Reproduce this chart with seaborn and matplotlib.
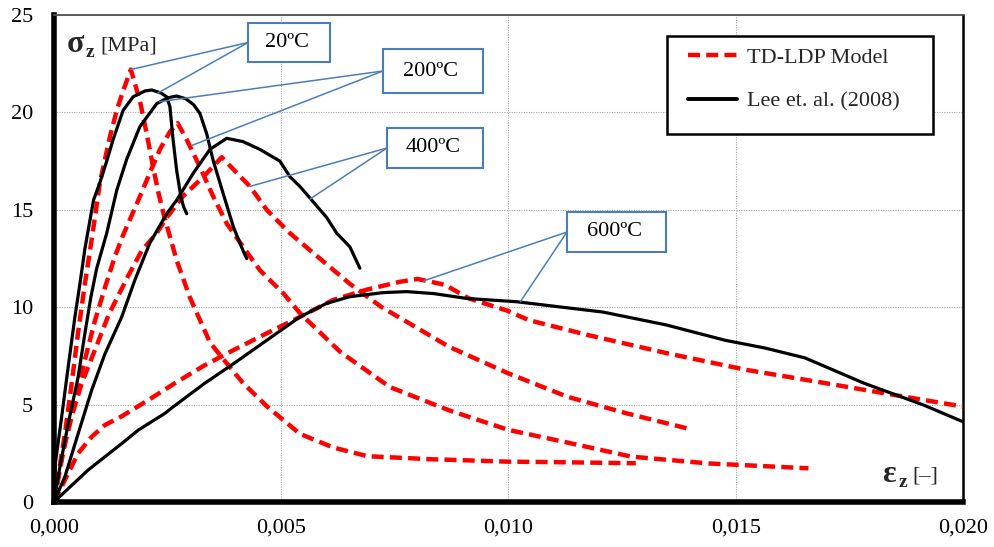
import numpy as np
import pandas as pd
import matplotlib
matplotlib.use("Agg")
import matplotlib.pyplot as plt
import seaborn as sns
from matplotlib.lines import Line2D
from matplotlib.patches import Rectangle

# ---------------- data (strain [-], stress [MPa]) ----------------
td20_strain = [0, 0.00009, 0.00024, 0.00039, 0.00053, 0.00068, 0.00085, 0.00101, 0.00123, 0.00138,
               0.00152, 0.00169, 0.00189, 0.00204, 0.00218, 0.00230, 0.00242, 0.00270, 0.00299,
               0.00320, 0.00343, 0.00365, 0.00416, 0.00469, 0.00541, 0.00614, 0.00690, 0.00825,
               0.01000, 0.01090, 0.01280]
td20_stress = [0, 1.3, 3.5, 6.1, 8.7, 11.2, 13.8, 16.4, 18.75, 20.1,
               21.1, 22.2, 20.6, 18.9, 17.2, 15.85, 14.7, 12.4, 10.5,
               9.4, 8.2, 7.55, 6.1, 4.9, 3.5, 2.8, 2.35, 2.2,
               2.07, 2.05, 1.99]

td200_strain = [0, 0.00010, 0.00024, 0.00046, 0.00068, 0.00090, 0.00112, 0.00134, 0.00152, 0.00182,
                0.00211, 0.00233, 0.00255, 0.00272, 0.00292, 0.00321, 0.00350, 0.00380, 0.00416,
                0.00453, 0.00505, 0.00541, 0.00630, 0.00739, 0.00870, 0.01000, 0.01130, 0.01270,
                0.01440, 0.01660]
td200_stress = [0, 1.3, 3.0, 5.2, 7.3, 9.3, 11.0, 12.6, 13.7, 15.3,
                16.9, 18.1, 19.0, 19.45, 18.6, 17.2, 15.7, 14.3, 13.1,
                11.9, 10.7, 9.7, 7.7, 5.9, 4.7, 3.7, 3.05, 2.33,
                1.98, 1.73]

td400_strain = [0, 0.00017, 0.00039, 0.00061, 0.00090, 0.00120, 0.00163, 0.00193, 0.00226, 0.00248,
                0.00284, 0.00329, 0.00369, 0.00402, 0.00431, 0.00468, 0.00519, 0.00600, 0.00651,
                0.00721, 0.00782, 0.00869, 0.01000, 0.01130, 0.01260, 0.01393]
td400_stress = [0, 2.3, 4.4, 6.1, 7.8, 9.6, 11.6, 12.9, 13.8, 14.6,
                15.7, 16.7, 17.7, 16.9, 16.2, 15.0, 13.8, 12.2, 11.2,
                10.0, 9.17, 7.97, 6.6, 5.4, 4.55, 3.78]

td600_strain = [0, 0.00024, 0.00053, 0.00083, 0.00112, 0.00149, 0.00208, 0.00266, 0.00330, 0.00395,
                0.00468, 0.00541, 0.00614, 0.00688, 0.00760, 0.00800, 0.00860, 0.00913, 0.01000,
                0.01044, 0.01175, 0.01350, 0.01524, 0.01700, 0.01870, 0.02000]
td600_stress = [0, 1.13, 2.5, 3.35, 3.95, 4.4, 5.24, 6.1, 7.0, 7.8,
                8.66, 9.5, 10.37, 10.9, 11.3, 11.45, 11.15, 10.45, 9.8,
                9.34, 8.57, 7.63, 6.78, 6.09, 5.41, 4.9]

lee20_strain = [0, 0.00003, 0.00017, 0.00031, 0.00046, 0.00057, 0.00068, 0.00087, 0.00101, 0.00116,
                0.00130, 0.00152, 0.00174, 0.00200, 0.00215, 0.00235, 0.00248, 0.00255, 0.00262,
                0.00270, 0.00279, 0.00285, 0.00292]
lee20_stress = [0, 2.0, 4.4, 6.9, 9.5, 11.2, 13.0, 15.5, 16.4, 17.5,
                18.6, 20.1, 20.8, 21.1, 21.15, 21.0, 20.8, 20.3, 18.6,
                17.0, 15.7, 15.16, 14.8]

lee200_strain = [0, 0.00013, 0.00031, 0.00053, 0.00068, 0.00081, 0.00094, 0.00105, 0.00116, 0.00138,
                 0.00160, 0.00189, 0.00226, 0.00250, 0.00270, 0.00290, 0.00307, 0.00321, 0.00336,
                 0.00350, 0.00372, 0.00395, 0.00416, 0.00424]
lee200_stress = [0, 1.8, 4.0, 6.4, 8.66, 10.5, 12.0, 12.9, 13.8, 16.0,
                 17.6, 19.27, 20.45, 20.75, 20.84, 20.7, 20.4, 19.95, 18.9,
                 17.55, 15.85, 14.1, 12.9, 12.5]

lee400_strain = [0, 0.00024, 0.00053, 0.00083, 0.00112, 0.00149, 0.00178, 0.00211, 0.00248, 0.00270,
                 0.00307, 0.00343, 0.00380, 0.00416, 0.00453, 0.00497, 0.00519, 0.00541, 0.00556,
                 0.00600, 0.00622, 0.00651, 0.00673]
lee400_stress = [0, 1.3, 3.5, 5.75, 7.6, 9.5, 11.4, 13.3, 14.8, 15.5,
                 16.9, 18.1, 18.67, 18.5, 18.1, 17.5, 16.7, 16.2, 15.8,
                 14.6, 13.8, 13.1, 12.0]

lee600_strain = [0, 0.00075, 0.00149, 0.00186, 0.00244, 0.00263, 0.00332, 0.00395, 0.00468, 0.00541,
                 0.00600, 0.00651, 0.00725, 0.00776, 0.00835, 0.00908, 0.01018, 0.01208, 0.01347,
                 0.01477, 0.01565, 0.01652, 0.01782, 0.01913, 0.02000]
lee600_stress = [0, 1.64, 3.0, 3.7, 4.55, 4.9, 6.1, 7.1, 8.3, 9.5,
                 10.2, 10.54, 10.75, 10.8, 10.7, 10.45, 10.28, 9.75, 9.09,
                 8.3, 7.9, 7.4, 6.1, 4.98, 4.12]

temperatures = ["20ºC", "200ºC", "400ºC", "600ºC"]
series_names = ["TD-LDP Model", "Lee et. al. (2008)"]
x_ticks = [0.0, 0.005, 0.010, 0.015, 0.020]
x_tick_labels = ["0,000", "0,005", "0,010", "0,015", "0,020"]
y_ticks = [0, 5, 10, 15, 20, 25]
y_tick_labels = ["0", "5", "10", "15", "20", "25"]

# callout anchor points on the curves (model, experiment)
callout_points = {
    "20ºC": [(0.00169, 22.2), (0.00229, 21.0)],
    "200ºC": [(0.00232, 20.55), (0.00303, 18.3)],
    "400ºC": [(0.00431, 16.2), (0.00563, 15.55)],
    "600ºC": [(0.00813, 11.35), (0.01026, 10.28)],
}

# ---------------- style ----------------
sns.set_style("white")
plt.rcParams["font.family"] = ["Liberation Serif", "DejaVu Serif"]

W, H = 995, 547
AX_L, AX_R, AX_T, AX_B = 54, 963, 15, 502
fig = plt.figure(figsize=(W / 100, H / 100), dpi=100)
ax = fig.add_axes([AX_L / W, 1 - AX_B / H, (AX_R - AX_L) / W, (AX_B - AX_T) / H])


def axfrac(px, py):
    return ((px - AX_L) / (AX_R - AX_L), (AX_B - py) / (AX_B - AX_T))


model_curves = [(td20_strain, td20_stress), (td200_strain, td200_stress),
                (td400_strain, td400_stress), (td600_strain, td600_stress)]
lee_curves = [(lee20_strain, lee20_stress), (lee200_strain, lee200_stress),
              (lee400_strain, lee400_stress), (lee600_strain, lee600_stress)]

df_model = pd.concat([pd.DataFrame({"strain": x, "stress": y, "temp": t})
                      for t, (x, y) in zip(temperatures, model_curves)])
df_lee = pd.concat([pd.DataFrame({"strain": x, "stress": y, "temp": t})
                    for t, (x, y) in zip(temperatures, lee_curves)])

RED = "#FF0000"
DASH = (2.7, 1.4)
sns.lineplot(data=df_model, x="strain", y="stress", units="temp", estimator=None,
             sort=False, color=RED, linewidth=3.2, ax=ax, legend=False, zorder=3)
n_model = len(ax.lines)
for ln in ax.lines[:n_model]:
    ln.set_dashes(DASH)
sns.lineplot(data=df_lee, x="strain", y="stress", units="temp", estimator=None,
             sort=False, color="black", linewidth=2.3, ax=ax, legend=False, zorder=4)

ax.set_xlim(0, 0.020)
ax.set_ylim(0, 25)
ax.set_xticks(x_ticks)
ax.set_xticklabels(x_tick_labels)
ax.set_yticks(y_ticks)
ax.set_yticklabels(y_tick_labels)
ax.set_xlabel("")
ax.set_ylabel("")
ax.grid(True, linestyle=(0, (1, 1.2)), color="#A6A6A6", linewidth=0.8)
ax.set_axisbelow(True)

for s in ["left", "bottom"]:
    ax.spines[s].set_linewidth(4)
    ax.spines[s].set_color("black")
ax.spines["top"].set_linewidth(1.3)
ax.spines["top"].set_color("#505050")
ax.spines["right"].set_linewidth(1.8)
ax.spines["right"].set_color("black")
ax.tick_params(axis="both", direction="out", length=5, width=3, color="black",
               labelsize=16, labelcolor="black")
ax.tick_params(axis="y", pad=10)
ax.tick_params(axis="x", pad=7)
for lab in ax.get_xticklabels() + ax.get_yticklabels():
    lab.set_family("Liberation Serif")

# axis titles inside the plot
fig.text(67 / W, 1 - 52 / H, "σ", fontsize=23, fontweight="bold", va="baseline", ha="left")
fig.text(86 / W, 1 - 57 / H, "z", fontsize=14, fontweight="bold", va="baseline", ha="left")
fig.text(100 / W, 1 - 51 / H, "[MPa]", fontsize=16, va="baseline", ha="left")
fig.text(882 / W, 1 - 482 / H, "ε", fontsize=23, fontweight="bold", va="baseline", ha="left")
fig.text(899 / W, 1 - 487 / H, "z", fontsize=14, fontweight="bold", va="baseline", ha="left")
fig.text(912 / W, 1 - 481 / H, "[–]", fontsize=16, va="baseline", ha="left")

# callout boxes (pixel layout of the reference)
BLUE = "#4A7EBB"
boxes = {
    "20ºC": (248, 23, 330, 62),
    "200ºC": (383, 49, 483, 93),
    "400ºC": (387, 128, 483, 168),
    "600ºC": (567, 212, 666, 252),
}
for t in temperatures:
    x0, y0, x1, y1 = boxes[t]
    fx0, fy1 = axfrac(x0, y1)
    fx1, fy0 = axfrac(x1, y0)
    ymid = (y0 + y1) / 2
    start = axfrac(x0, ymid)
    for pt in callout_points[t]:
        ax.annotate("", xy=pt, xycoords="data", xytext=start, textcoords="axes fraction",
                    arrowprops=dict(arrowstyle="-", color=BLUE, lw=1.1, shrinkA=0, shrinkB=0),
                    zorder=6, annotation_clip=False)
    ax.add_patch(Rectangle((fx0, fy1), fx1 - fx0, fy0 - fy1, transform=ax.transAxes,
                           facecolor="white", edgecolor=BLUE, lw=1.5, zorder=7, clip_on=False))
    cx, cy = axfrac((x0 + x1) / 2 - 2, ymid)
    ax.text(cx, cy, t, transform=ax.transAxes, ha="center", va="center", fontsize=16,
            zorder=8, color="black")

# legend
lx0, ly0, lx1, ly1 = 667, 36, 933, 134
fx0, fy1 = axfrac(lx0, ly1)
fx1, fy0 = axfrac(lx1, ly0)
ax.add_patch(Rectangle((fx0, fy1), fx1 - fx0, fy0 - fy1, transform=ax.transAxes,
                       facecolor="white", edgecolor="black", lw=1.8, zorder=7, clip_on=False))
handles = [Line2D([0], [0], color=RED, lw=3.2, dashes=DASH),
           Line2D([0], [0], color="black", lw=2.8)]
anchor = axfrac(688, 47)
leg = ax.legend(handles, series_names, loc="upper left", bbox_to_anchor=anchor,
                bbox_transform=ax.transAxes, frameon=False, borderpad=0, borderaxespad=0,
                handlelength=2.2, handletextpad=0.45, labelspacing=1.05,
                prop={"family": "Liberation Serif", "size": 16})
leg.set_zorder(9)

fig.savefig("out.png", dpi=100)
